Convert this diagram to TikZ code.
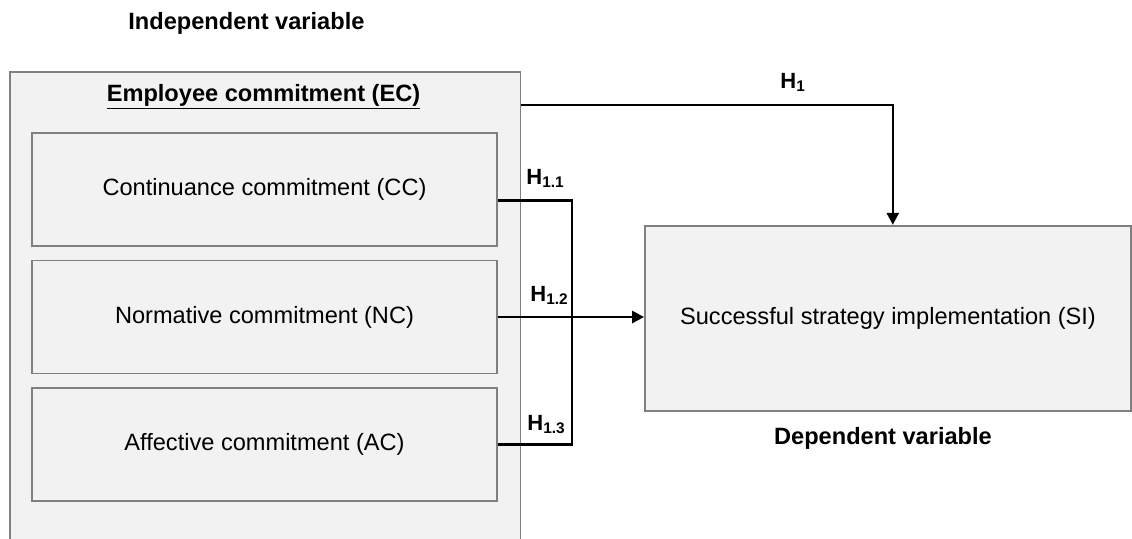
\documentclass[tikz,border=0pt]{standalone}
\usepackage{fontspec}
\setmainfont{Liberation Sans}
\usepackage{tikz}
\usetikzlibrary{arrows.meta, positioning, calc}

\definecolor{boxfill}{HTML}{F2F2F2}
\definecolor{boxline}{HTML}{808080}

\tikzset{
  box/.style={draw=boxline, line width=0.9pt, fill=boxfill, inner sep=0pt,
    font=\fontsize{11.8}{14}\selectfont},
  dimbox/.style={box, minimum width=232.5pt, minimum height=56.5pt},
  link/.style={line width=1.3pt},
  arr/.style={link, -{Triangle[length=6pt,width=6pt]}},
  lbl/.style={font=\fontsize{11.8}{14}\selectfont\bfseries, inner sep=0pt},
  hyp/.style={font=\fontsize{11}{13}\selectfont\bfseries, inner sep=0pt, anchor=base west}
}

\begin{document}
\begin{tikzpicture}[x=0.5pt,y=-0.5pt]
  \useasboundingbox (0,0) rectangle (1132,538);

  % Independent side
  \node[lbl, anchor=base west] (indep) at (128,29) {Independent variable};
  \node[box, anchor=north west, minimum width=255.25pt, minimum height=240pt] (ec) at (9,71) {};
  \node[lbl, anchor=base] (ectitle) at (263.5,101) {\underline{Employee commitment (EC)}};

  % Dimensions
  \node[dimbox] (cc) at (264.5,189.5) {Continuance commitment (CC)};
  \node[dimbox] (nc) at (264.5,317) {Normative commitment (NC)};
  \node[dimbox] (ac) at (264.5,444.5) {Affective commitment (AC)};

  % Dependent side
  \node[box, minimum width=243pt, minimum height=92.5pt] (si) at (888,318.2)
    {Successful strategy implementation (SI)};
  \node[lbl, anchor=base] (dep) at (883,444) {Dependent variable};

  % Hypotheses
  \coordinate (h1from) at ($(ec.north east)+(0,34)$);
  \draw[arr] (h1from) -| ([xshift=2.4pt]si.north);
  \node[hyp] (h1) at (780,88) {H\textsubscript{1}};

  \draw[link] ([yshift=-5.6pt]cc.east) -| ($(ac.east)+(74,0)$) -- (ac.east);
  \draw[arr] (nc.east) -- (nc.east -| si.west);
  \node[hyp] (h11) at (526,184) {H\textsubscript{1.1}};
  \node[hyp] (h12) at (530,301.7) {H\textsubscript{1.2}};
  \node[hyp] (h13) at (527,430) {H\textsubscript{1.3}};
\end{tikzpicture}
\end{document}
